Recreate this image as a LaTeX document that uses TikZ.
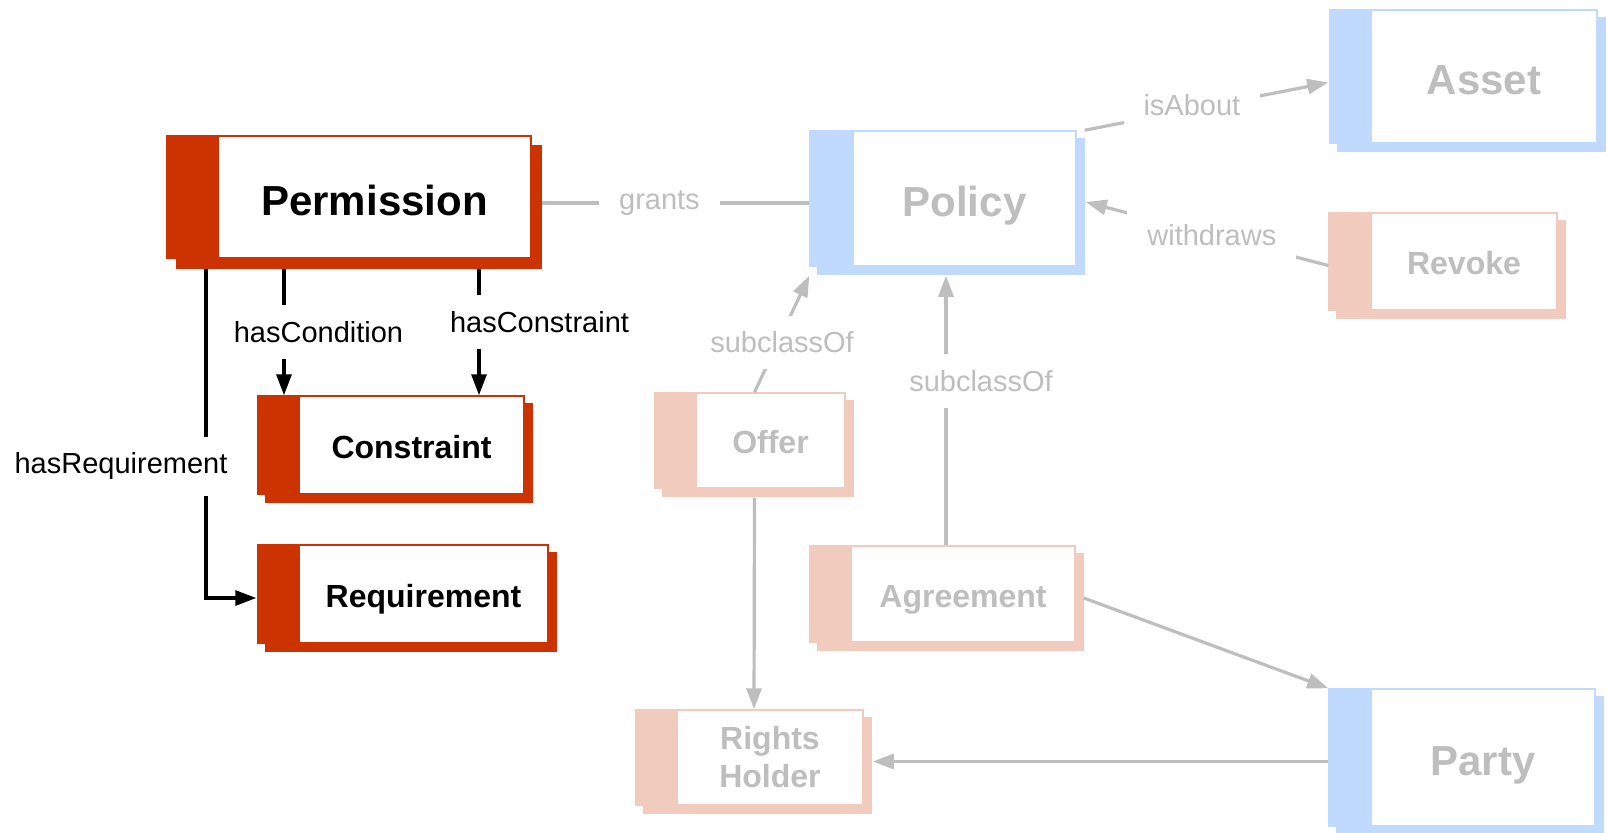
\documentclass[tikz,border=0pt]{standalone}
\usepackage{fontspec}
\setmainfont{Liberation Sans}
\usetikzlibrary{arrows.meta, positioning}

\definecolor{ordred}{RGB}{204,51,0}
\definecolor{polblue}{RGB}{192,217,255}
\definecolor{actpink}{RGB}{240,203,190}
\definecolor{fadegray}{RGB}{190,190,190}

\pgfdeclarelayer{background}
\pgfsetlayers{background,main}

\begin{document}
\begin{tikzpicture}[
        x=0.5pt, y=-0.5pt,
        cls/.style={draw=#1, line width=0.75pt, fill=white, inner sep=0pt, align=center,
                    text height=13pt, text depth=0pt,
                    font=\bfseries\fontsize{16}{19}\selectfont},
        big/.style={text height=18pt, font=\bfseries\fontsize{21}{25}\selectfont},
        twoline/.style={text height=, text depth=},
        faded/.style={text=fadegray},
        wh/.style 2 args={minimum width=#1*0.5pt, minimum height=#2*0.5pt},
        arr/.style={-{Triangle[length=10.5pt, width=7.5pt]}, line width=1.6pt},
        garr/.style={arr, draw=fadegray},
        gline/.style={draw=fadegray, line width=1.6pt},
        lbl/.style={fill=white, font=\fontsize{14.5}{17}\selectfont, inner xsep=10pt, inner ysep=8pt},
        glbl/.style={lbl, text=fadegray}]

    \useasboundingbox (0,0) rectangle (1607,832);

    % class boxes (white part; band and shadow follow below)
    \node[cls=ordred, big, wh={313}{122}] (perm)   at (374.5,197)  {Permission};
    \node[cls=ordred, wh={225}{98}]       (cons)   at (411.5,445)  {Constraint};
    \node[cls=ordred, wh={249}{98}]       (req)    at (423.5,594)  {Requirement};
    \node[cls=polblue, big, faded, wh={223}{135}] (pol)   at (964.5,198.5) {Policy};
    \node[cls=polblue, big, faded, wh={226}{133}] (asset) at (1484,76.5)   {Asset};
    \node[cls=polblue, big, faded, wh={224}{137}] (party) at (1483,757.5)  {Party};
    \node[cls=actpink, faded, wh={186}{97}]  (revoke) at (1464,261.5) {Revoke};
    \node[cls=actpink, faded, wh={149}{95}]  (offer)  at (770.5,440.5) {Offer};
    \node[cls=actpink, faded, wh={224}{96}]  (agr)    at (963,594)    {Agreement};
    \node[cls=actpink, faded, twoline, wh={186}{95}] (holder) at (770,757.5) {Rights\\Holder};

    % coloured band on the left, offset copy underneath
    \foreach \n/\c/\b/\s in {perm/ordred/51/10, cons/ordred/41/8, req/ordred/41/8,
                             pol/polblue/43/8, asset/polblue/41/8, party/polblue/42/8,
                             revoke/actpink/42/8, offer/actpink/41/8, agr/actpink/41/8,
                             holder/actpink/41/8}{
        \fill[\c] ([xshift=-\b*0.5pt]\n.north west) rectangle (\n.south west);
        \begin{pgfonlayer}{background}
            \fill[\c] ([xshift=-\b*0.5pt+\s*0.5pt, yshift=-\s*0.5pt]\n.north west)
                rectangle ([xshift=\s*0.5pt, yshift=-\s*0.5pt]\n.south east);
        \end{pgfonlayer}
    }

    % permission properties
    \draw[arr] ([xshift=-45.25pt, yshift=-5pt]perm.south)
               -- node[lbl, pos=0.5, xshift=17.25pt]{hasCondition} ([xshift=-63.75pt]cons.north);
    \draw[arr] ([xshift=52.25pt, yshift=-5pt]perm.south)
               -- node[lbl, pos=0.42, xshift=30.25pt]{hasConstraint} ([xshift=33.75pt]cons.north);
    \draw[arr] ([xshift=-84.25pt, yshift=-5pt]perm.south)
               |- node[lbl, pos=0.3, xshift=-42.5pt]{hasRequirement} ([xshift=-21pt, yshift=-2pt]req.west);

    % policy relations
    \draw[gline] ([xshift=5pt, yshift=-3pt]perm.east)
                 -- node[glbl, pos=0.44]{grants} ([xshift=-21.5pt, yshift=-2.25pt]pol.west);
    \draw[garr] ([xshift=4pt]pol.north east)
                -- node[glbl, pos=0.44, yshift=2pt]{isAbout} ([xshift=-21pt, yshift=-3pt]asset.west);
    \draw[garr] ([xshift=-21pt, yshift=-2pt]revoke.west)
                -- node[glbl, pos=0.48]{withdraws} ([xshift=4.5pt, yshift=-1.75pt]pol.east);
    \draw[garr] ([xshift=-8pt]offer.north)
                -- node[glbl, pos=0.43, xshift=2pt]{subclassOf} ([xshift=-21.5pt, yshift=-4.5pt]pol.south west);
    \draw[garr] ([xshift=-8.5pt]agr.north)
                -- node[glbl, pos=0.61, xshift=17.5pt]{subclassOf} ([xshift=-9.25pt, yshift=-4.5pt]pol.south);

    % parties
    \draw[garr] ([xshift=-8pt, yshift=-4.5pt]offer.south) -- ([xshift=-8pt]holder.north);
    \draw[garr] ([xshift=4pt, yshift=-2pt]agr.east) -- ([xshift=-21pt]party.north west);
    \draw[garr] ([xshift=-21pt, yshift=-2pt]party.west) -- ([xshift=4.5pt, yshift=-2pt]holder.east);
\end{tikzpicture}
\end{document}
